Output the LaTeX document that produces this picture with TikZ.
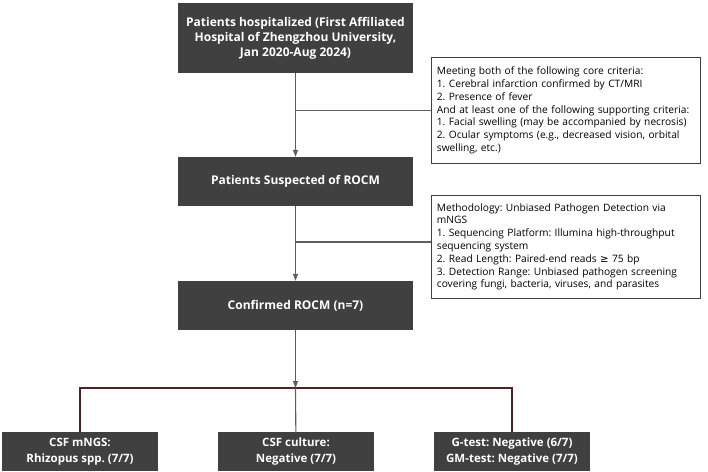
\documentclass[tikz,border=0pt]{standalone}
\usepackage{fontspec}
\setmainfont{Open Sans}
\newfontfamily\symfont{DejaVu Sans}
\usetikzlibrary{positioning,arrows.meta}
\definecolor{boxgray}{HTML}{404040}
\definecolor{linegray}{HTML}{5E5E5E}
\definecolor{branchred}{HTML}{4E2323}
\frenchspacing
\hyphenpenalty=10000

\begin{document}
\begin{tikzpicture}[x=1pt,y=-1pt,
  mainbox/.style={fill=boxgray,text=white,align=center,inner sep=0,
    font=\bfseries\fontsize{12}{15}\selectfont,minimum width=235},
  resultbox/.style={fill=boxgray,text=white,align=center,inner sep=0,
    font=\bfseries\fontsize{11.5}{16}\selectfont,minimum width=156,minimum height=39},
  notebox/.style={draw=black!75,line width=0.8pt,fill=white,align=left,anchor=north west,
    font=\fontsize{10.2}{12.8}\selectfont,text width=258,inner xsep=5.5,inner ysep=0,minimum width=269},
  flow/.style={linegray,line width=1.1pt},
  arr/.style={flow,-{Triangle[length=7pt,width=5pt]}},
  branch/.style={branchred,line width=1.1pt}]
\useasboundingbox (0,0) rectangle (708,471);

% main column
\node[mainbox,minimum height=70] (hosp) at (295.5,38) {Patients hospitalized (First Affiliated\\Hospital of Zhengzhou University,\\Jan 2020-Aug 2024)};
\node[mainbox,minimum height=49] (susp) at (295.5,181.5) {Patients Suspected of ROCM};
\node[mainbox,minimum height=49] (conf) at (295.5,305.5) {Confirmed ROCM (n=7)};

% side notes
\node[notebox,minimum height=106] (crit) at (431,57) {Meeting both of the following core criteria:\\
1. Cerebral infarction confirmed by CT/MRI\\
2. Presence of fever\\
And at least one of the following supporting criteria:\\
1. Facial swelling (may be accompanied by necrosis)\\
2. Ocular symptoms (e.g., decreased vision, orbital\\
swelling, etc.)};
\node[notebox,minimum height=103] (meth) at (431,195) {Methodology: Unbiased Pathogen Detection via\\
mNGS\\
1. Sequencing Platform: Illumina high-throughput\\
sequencing system\\
2. Read Length: Paired-end reads {\symfont ≥} 75 bp\\
3. Detection Range: Unbiased pathogen screening\\
covering fungi, bacteria, viruses, and parasites};

% results
\node[resultbox] (mngs) at (80,451.5) {CSF mNGS:\\Rhizopus spp. (7/7)};
\node[resultbox] (cult) at (296,451.5) {CSF culture:\\Negative (7/7)};
\node[resultbox] (gtest) at (512,451.5) {G-test: Negative (6/7)\\GM-test: Negative (7/7)};

\coordinate (split) at (295.5,388);

\draw[arr] (hosp) -- (susp);
\draw[flow] (hosp.south |- crit.west) -- (crit.west);
\draw[arr] (susp) -- (conf);
\draw[flow] (susp.south |- 0,242) -- (meth.west |- 0,242);
\draw[arr] (conf) -- (split);
\draw[branch] (mngs.north) |- (split) -| (gtest.north);
\draw[flow] (split) -- (cult);
\end{tikzpicture}
\end{document}
